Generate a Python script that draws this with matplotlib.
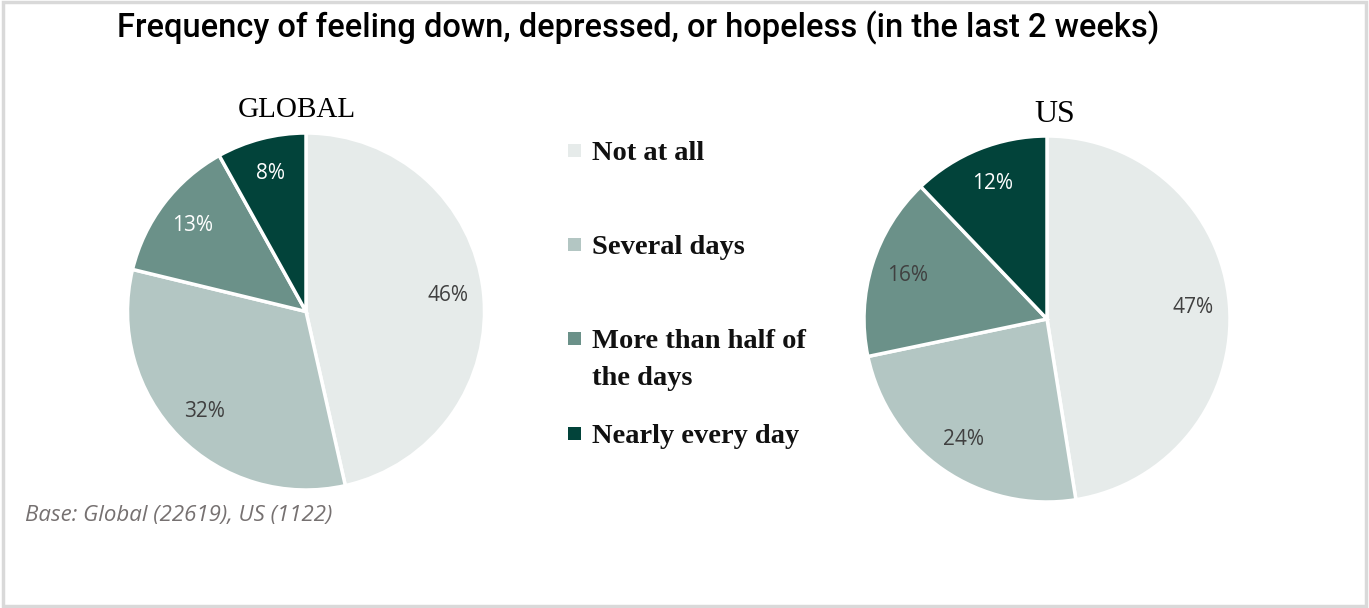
import matplotlib.pyplot as plt
from matplotlib.patches import Rectangle

categories = ['Not at all', 'Several days', 'More than half of\nthe days', 'Nearly every day']
global_values = [46, 32, 13, 8]
us_values = [47, 24, 16, 12]
colors = ['#E6EBEA', '#B3C6C3', '#6B9189', '#02433A']
global_text_colors = ['#404040', '#404040', 'white', 'white']
us_text_colors = ['#404040', '#404040', '#404040', 'white']

W, H = 1369, 608
fig = plt.figure(figsize=(W / 100, H / 100), dpi=100)
fig.patch.set_facecolor('white')

# thin grey frame around the whole picture
fig.add_artist(Rectangle((0.002, 0.003), 0.996, 0.993, transform=fig.transFigure,
                         fill=False, edgecolor='#D9D9D9', linewidth=2.5))


def px_axes(left, top, right, bottom):
    return fig.add_axes([left / W, 1 - bottom / H, (right - left) / W, (bottom - top) / H])


def draw_pie(ax, values, text_colors, title, title_x, title_y, title_size):
    wedges, texts = ax.pie(values, colors=colors, startangle=90, counterclock=False,
                           labels=[f'{v}%' for v in values], labeldistance=0.8,
                           wedgeprops=dict(edgecolor='white', linewidth=2.5))
    for t, c in zip(texts, text_colors):
        t.set_color(c)
        t.set_fontsize(15)
        t.set_family('Open Sans')
        t.set_ha('center')
        t.set_va('center')
    ax.set_xlim(-1.0, 1.0)
    ax.set_ylim(-1.0, 1.0)
    ax.set_aspect('equal')
    ax.axis('off')
    ax.text(title_x, title_y, title, ha='center', va='center', fontsize=title_size,
            family='Liberation Serif', color='black')


ax1 = px_axes(127, 133, 485, 490)
draw_pie(ax1, global_values, global_text_colors, 'GLOBAL', -0.05, 1.13, 21)

ax2 = px_axes(864, 136, 1230, 502)
draw_pie(ax2, us_values, us_text_colors, 'US', 0.04, 1.12, 23)

fig.text(117 / W, 1 - 28 / H, 'Frequency of feeling down, depressed, or hopeless (in the last 2 weeks)',
         ha='left', va='center', fontsize=23.5, family='Roboto', fontweight='medium', color='black')

# legend
legend_y = [151, 245, 339, 434]
for cat, col, y in zip(categories, colors, legend_y):
    fig.add_artist(Rectangle((568 / W, 1 - (y + 6) / H), 13 / W, 13 / H,
                             transform=fig.transFigure, facecolor=col, edgecolor='none'))
    fig.text(592 / W, 1 - (y - 10) / H, cat, ha='left', va='top', fontsize=20.5,
             family='Liberation Serif', fontweight='bold', color='#111111', linespacing=1.65)

fig.text(25 / W, 1 - 515 / H, 'Base: Global (22619), US (1122)', ha='left', va='center',
         fontsize=16, family='Open Sans', style='italic', color='#767171')

fig.savefig('out.png', dpi=100)
